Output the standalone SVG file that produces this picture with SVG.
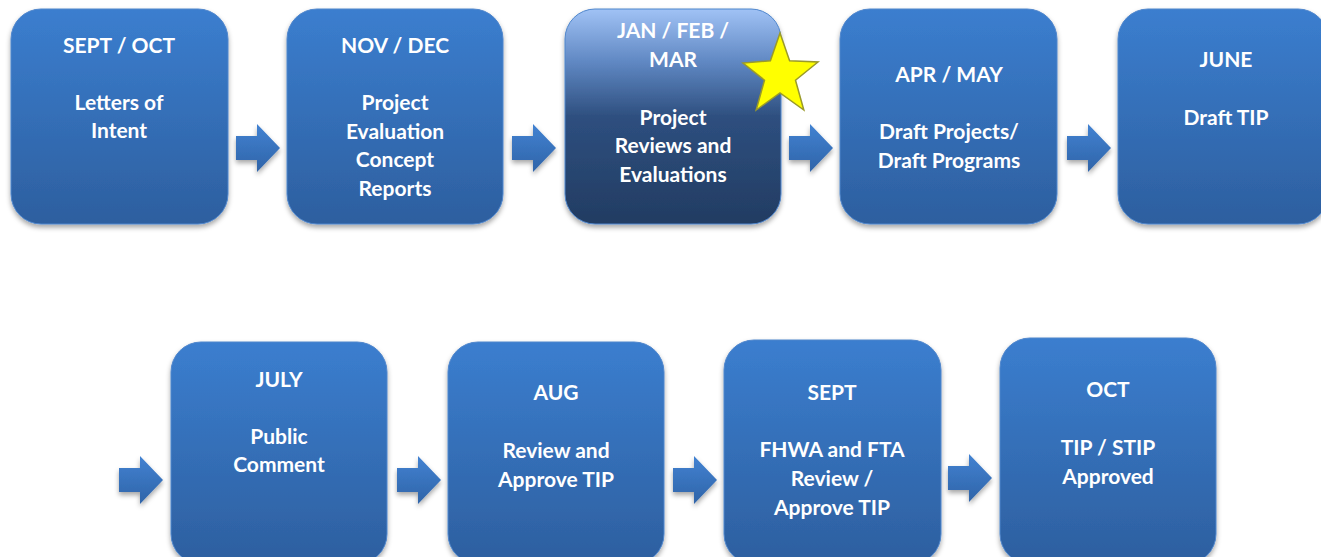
<svg xmlns="http://www.w3.org/2000/svg" width="1321" height="557" viewBox="0 0 1321 557">
<defs>
<linearGradient id="gBox" x1="0" y1="0" x2="0" y2="1">
<stop offset="0" stop-color="#3b7ecf"/>
<stop offset="1" stop-color="#2d5f9f"/>
</linearGradient>
<linearGradient id="gHi" x1="0" y1="0" x2="0" y2="1">
<stop offset="0" stop-color="#a0c2f5"/>
<stop offset="0.25" stop-color="#5f87c2"/>
<stop offset="0.5" stop-color="#2e4f7f"/>
<stop offset="1" stop-color="#223c62"/>
</linearGradient>
<linearGradient id="gArr" x1="0" y1="0" x2="0" y2="1">
<stop offset="0" stop-color="#4282d2"/>
<stop offset="1" stop-color="#2f64a8"/>
</linearGradient>
<filter id="sh" x="-10%" y="-10%" width="120%" height="125%">
<feDropShadow dx="0" dy="3" stdDeviation="2.5" flood-color="#000" flood-opacity="0.35"/>
</filter>
<path id="arrow" d="M0,-12 H21 V-24 L44,0 L21,24 V12 H0 Z"/>
</defs>
<style>
.box{fill:url(#gBox);stroke:#4f86cc;stroke-width:1;filter:url(#sh)}
.hi{fill:url(#gHi);stroke:#4f86cc;stroke-width:1;filter:url(#sh)}
.arr{fill:url(#gArr);filter:url(#sh)}
text{font-family:Lato,"Open Sans","Liberation Sans",sans-serif;font-weight:bold;font-size:21px;fill:#fff;text-anchor:middle}
</style>
<g id="connectors">
<use href="#arrow" class="arr" x="236" y="148"/>
<use href="#arrow" class="arr" x="512" y="148"/>
<use href="#arrow" class="arr" x="789" y="148"/>
<use href="#arrow" class="arr" x="1067" y="148"/>
<use href="#arrow" class="arr" x="119" y="480"/>
<use href="#arrow" class="arr" x="397" y="480"/>
<use href="#arrow" class="arr" x="673" y="480"/>
<use href="#arrow" class="arr" x="948" y="478"/>
</g>
<g id="n1"><rect class="box" x="11" y="9" width="217" height="215" rx="30"/>
<text x="119" y="53">SEPT / OCT</text><text x="119" y="110">Letters of</text><text x="119" y="138">Intent</text></g>
<g id="n2"><rect class="box" x="287" y="9" width="216" height="215" rx="30"/>
<text x="395" y="53">NOV / DEC</text><text x="395" y="110">Project</text><text x="395" y="139">Evaluation</text><text x="395" y="167">Concept</text><text x="395" y="196">Reports</text></g>
<g id="n3"><rect class="hi" x="565" y="9" width="216" height="215" rx="30"/>
<text x="673" y="38">JAN / FEB /</text><text x="673" y="67">MAR</text><text x="673" y="125">Project</text><text x="673" y="153">Reviews and</text><text x="673" y="182">Evaluations</text>
<polygon points="780,33 789.6,60.8 818,62 795.5,80.2 803.8,110 780,93 756.2,110 764.5,80.2 743,63 770.4,60.8" fill="#ffff00" stroke="#9a9a2a" stroke-width="1.5"/></g>
<g id="n4"><rect class="box" x="840" y="9" width="217" height="215" rx="30"/>
<text x="949" y="82">APR / MAY</text><text x="949" y="139">Draft Projects/</text><text x="949" y="168">Draft Programs</text></g>
<g id="n5"><rect class="box" x="1118" y="9" width="210" height="215" rx="30"/>
<text x="1226" y="67">JUNE</text><text x="1226" y="125">Draft TIP</text></g>
<g id="n6"><rect class="box" x="171" y="342" width="216" height="222" rx="30"/>
<text x="279" y="387">JULY</text><text x="279" y="444">Public</text><text x="279" y="472">Comment</text></g>
<g id="n7"><rect class="box" x="448" y="342" width="216" height="222" rx="30"/>
<text x="556" y="400">AUG</text><text x="556" y="458">Review and</text><text x="556" y="487">Approve TIP</text></g>
<g id="n8"><rect class="box" x="724" y="340" width="217" height="224" rx="30"/>
<text x="832" y="400">SEPT</text><text x="832" y="457">FHWA and FTA</text><text x="832" y="486">Review /</text><text x="832" y="515">Approve TIP</text></g>
<g id="n9"><rect class="box" x="1000" y="338" width="216" height="226" rx="30"/>
<text x="1108" y="397">OCT</text><text x="1108" y="455">TIP / STIP</text><text x="1108" y="484">Approved</text></g>
</svg>
